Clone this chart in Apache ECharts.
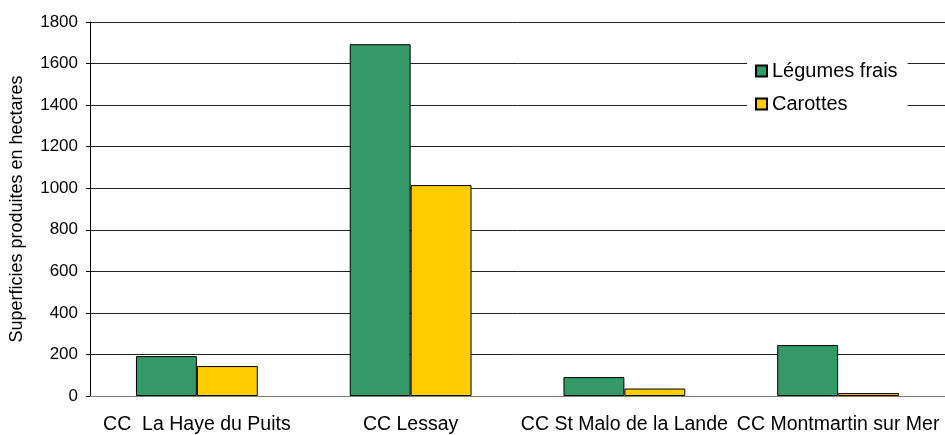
<!DOCTYPE html>
<html>
<head>
<meta charset="utf-8">
<script src="https://cdn.jsdelivr.net/npm/echarts@6/dist/echarts.min.js"></script>
<style>
    html, body { margin: 0; padding: 0; background: #fff; }
    #chart { width: 945px; height: 435px; }
</style>
</head>
<body>
<div id="chart"></div>
<script>
    // donnees
    var categories = ['CC  La Haye du Puits', 'CC Lessay', 'CC St Malo de la Lande', 'CC Montmartin sur Mer'];
    var legumesFrais = [192, 1693, 91, 245];
    var carottes = [144, 1015, 36, 14];

    var font = '"Liberation Sans", Arial, sans-serif';
    var chart = echarts.init(document.getElementById('chart'));
    chart.setOption({
        animation: false,
        textStyle: { fontFamily: font, color: '#000' },
        grid: {
            left: 90,
            top: 22,
            bottom: 38,
            width: 867
        },
        legend: {
            orient: 'vertical',
            left: 747,
            top: 55,
            padding: [6, 10, 6, 8],
            backgroundColor: '#fff',
            itemWidth: 11,
            itemHeight: 11,
            itemGap: 13,
            icon: 'rect',
            textStyle: { fontFamily: font, fontSize: 20, color: '#000' },
            data: ['Légumes frais', 'Carottes']
        },
        xAxis: {
            type: 'category',
            data: categories,
            axisLine: { lineStyle: { color: '#808080', width: 1 } },
            axisTick: { length: 6, lineStyle: { color: '#000' } },
            axisLabel: {
                interval: 0,
                margin: 19,
                fontFamily: font,
                fontSize: 19.5,
                color: '#000'
            }
        },
        yAxis: {
            type: 'value',
            min: 0,
            max: 1800,
            interval: 200,
            name: 'Superficies produites en hectares',
            nameLocation: 'middle',
            nameGap: 64,
            nameTextStyle: { fontFamily: font, fontSize: 18, color: '#000' },
            axisLine: { show: true, lineStyle: { color: '#000' } },
            axisTick: { show: true, length: 4, lineStyle: { color: '#000' } },
            axisLabel: {
                margin: 12,
                fontFamily: font,
                fontSize: 17,
                color: '#000',
                formatter: function (v) { return String(v); }
            },
            splitLine: { lineStyle: { color: '#222', width: 1 } }
        },
        series: [
            {
                name: 'Légumes frais',
                type: 'bar',
                data: legumesFrais,
                barGap: '0%',
                barCategoryGap: '43%',
                itemStyle: { color: '#339966', borderColor: '#000', borderWidth: 1 }
            },
            {
                name: 'Carottes',
                type: 'bar',
                data: carottes,
                barGap: '0%',
                barCategoryGap: '43%',
                itemStyle: { color: '#FFCC00', borderColor: '#000', borderWidth: 1 }
            }
        ]
    });
</script>
</body>
</html>
